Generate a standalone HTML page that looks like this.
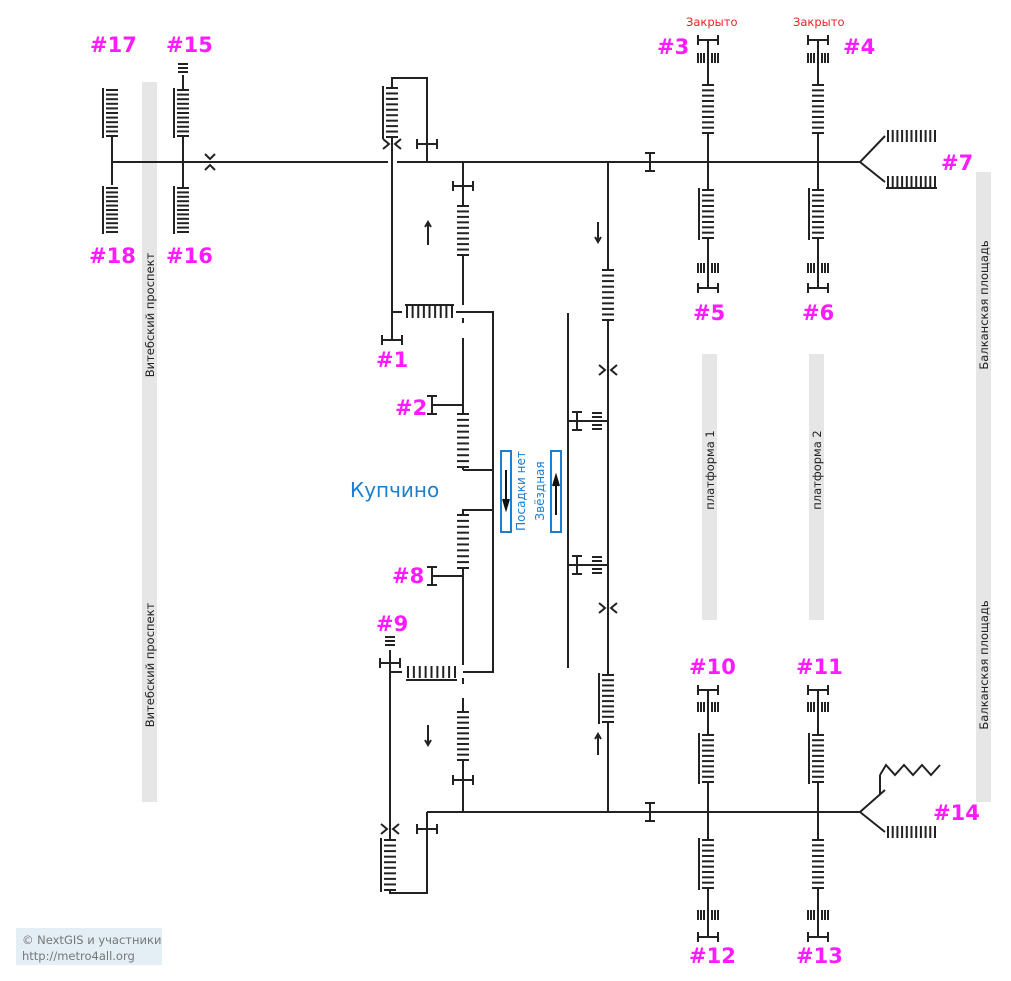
<!DOCTYPE html>
<html><head><meta charset="utf-8"><style>
html,body{margin:0;padding:0;background:#fff;}
svg{display:block;}
.l{font-family:"DejaVu Sans","Liberation Sans",sans-serif;font-weight:bold;font-size:21px;fill:#ff1aff;}
.g{font-family:"DejaVu Sans","Liberation Sans",sans-serif;font-size:11.5px;fill:#222;}
.r{font-family:"DejaVu Sans","Liberation Sans",sans-serif;font-size:11.5px;fill:#ee2222;}
.b{font-family:"DejaVu Sans","Liberation Sans",sans-serif;font-size:12px;fill:#1a7fd0;}
</style></head><body>
<svg id="s" width="1011" height="981" viewBox="0 0 1011 981" xmlns="http://www.w3.org/2000/svg">
<rect x="142" y="82" width="15" height="720" fill="#e6e6e6"/>
<rect x="976" y="172" width="15" height="630" fill="#e6e6e6"/>
<rect x="702" y="354" width="15" height="266" fill="#e6e6e6"/>
<rect x="809" y="354" width="15" height="266" fill="#e6e6e6"/>
<g id="d" stroke="#222" stroke-width="2" fill="none"></g>
<rect x="501" y="451" width="10" height="81" fill="none" stroke="#1a7fd0" stroke-width="2"/>
<rect x="551" y="451" width="10" height="81" fill="none" stroke="#1a7fd0" stroke-width="2"/>
<text class="l" x="90" y="52">#17</text><text class="l" x="166" y="52">#15</text>
<text class="l" x="89" y="263">#18</text><text class="l" x="166" y="263">#16</text>
<text class="l" x="657" y="54">#3</text><text class="l" x="843" y="54">#4</text>
<text class="l" x="693" y="320">#5</text><text class="l" x="802" y="320">#6</text>
<text class="l" x="941" y="170">#7</text>
<text class="l" x="376" y="367">#1</text><text class="l" x="395" y="415">#2</text>
<text class="l" x="392" y="583">#8</text><text class="l" x="376" y="631">#9</text>
<text class="l" x="689" y="674">#10</text><text class="l" x="796" y="674">#11</text>
<text class="l" x="689" y="963">#12</text><text class="l" x="796" y="963">#13</text>
<text class="l" x="933" y="820">#14</text>
<text class="r" x="686" y="26">Закрыто</text><text class="r" x="793" y="26">Закрыто</text>
<text x="350" y="497" style="font-family:'DejaVu Sans','Liberation Sans',sans-serif;font-size:20px;fill:#1a7fd0">Купчино</text>
<text class="g" transform="translate(154,315) rotate(-90)" text-anchor="middle">Витебский проспект</text>
<text class="g" transform="translate(154,665) rotate(-90)" text-anchor="middle">Витебский проспект</text>
<text class="g" transform="translate(988,305) rotate(-90)" text-anchor="middle">Балканская площадь</text>
<text class="g" transform="translate(988,665) rotate(-90)" text-anchor="middle">Балканская площадь</text>
<text class="g" transform="translate(714,470) rotate(-90)" text-anchor="middle">платформа 1</text>
<text class="g" transform="translate(821,470) rotate(-90)" text-anchor="middle">платформа 2</text>
<text class="b" transform="translate(525,491) rotate(-90)" text-anchor="middle">Посадки нет</text>
<text class="b" transform="translate(544,491) rotate(-90)" text-anchor="middle">Звёздная</text>
<rect x="16" y="928" width="146" height="37" fill="#e3eef5"/>
<text x="22" y="944" style="font-family:'DejaVu Sans',sans-serif;font-size:11.5px;fill:#777">© NextGIS и участники</text>
<text x="22" y="960" style="font-family:'DejaVu Sans',sans-serif;font-size:11.5px;fill:#777">http://metro4all.org</text>
</svg>
<script>
var g=document.getElementById('d'),o='';
function L(a){o+='<polyline points="'+a.join(' ')+'"/>';}
function ln(x1,y1,x2,y2){L([x1+','+y1,x2+','+y2]);}
function vs(x,y1,y2,n,rail){for(var i=0;i<n;i++){var y=y1+(y2-y1)*i/(n-1);ln(x-6,y,x+6,y);}if(rail)ln(x-9,y1-2,x-9,y2+2);}
function hs(y,x1,x2,n,rail){for(var i=0;i<n;i++){var x=x1+(x2-x1)*i/(n-1);ln(x,y-6,x,y+6);}if(rail)ln(x1-2,y+rail,x2+2,y+rail);}
function th(x,y){ln(x-10,y,x+10,y);ln(x-10,y-5,x-10,y+5);ln(x+10,y-5,x+10,y+5);}
function tv(x,y){ln(x,y-9,x,y+9);ln(x-5,y-9,x+5,y-9);ln(x-5,y+9,x+5,y+9);}
function sm(x,y){[-10,-7,-4,4,7,10].forEach(function(d){ln(x+d,y-5,x+d,y+5);});}
function tk(x,y1,n){for(var i=0;i<n;i++)ln(x-5,y1+i*4,x+5,y1+i*4);}
function chv(x,y){L([(x-9)+','+(y-5),(x-3)+','+y,(x-9)+','+(y+5)]);L([(x+9)+','+(y-5),(x+3)+','+y,(x+9)+','+(y+5)]);}
function chh(x,y){L([(x-5)+','+(y-8),x+','+(y-3),(x+5)+','+(y-8)]);L([(x-5)+','+(y+8),x+','+(y+3),(x+5)+','+(y+8)]);}
function arr(x,y1,y2){ln(x,y1,x,y2);var d=y2>y1?-5:5;L([(x-3)+','+(y2+d),x+','+y2,(x+3)+','+(y2+d)]);}
ln(112,162,388,162);ln(397,162,860,162);
ln(427,812,860,812);
L(['885,136','860,162','885,182']);hs(136,888,935,11,0);hs(182,888,935,11,6);
L(['885,790','860,812','885,832']);hs(832,888,935,11,0);
L(['880,795','880,775']);L(['880,775','886,765','895,775','904,765','913,775','922,765','931,775','940,765']);
ln(112,137,112,185);vs(112,90,136,11,1);vs(112,188,232,11,1);
ln(183,75,183,90);ln(183,136,183,188);tk(183,64,3);vs(183,90,136,11,1);vs(183,188,232,11,1);
chh(210,162);
[708,818].forEach(function(x){th(x,40);sm(x,58);ln(x,40,x,85);vs(x,85,133,10,0);ln(x,133,x,190);vs(x,190,238,10,1);ln(x,238,x,288);sm(x,268);th(x,288);
 th(x,690);sm(x,707);ln(x,690,x,735);vs(x,735,782,10,1);ln(x,782,x,840);vs(x,840,888,10,x==708);ln(x,888,x,937);sm(x,915);th(x,937);});
tv(650,162);tv(650,812);
vs(392,88,137,10,1);L(['392,88','392,78','427,78','427,162']);th(427,144);chv(392,144);
ln(392,137,392,340);th(392,340);
ln(392,312,402,312);hs(312,407,452,9,-7);L(['456,312','493,312','493,672','463,672']);
ln(463,162,463,206);ln(463,255,463,305);th(463,186);vs(463,206,255,10,0);ln(463,318,463,323);
ln(463,338,463,414);ln(432,405,463,405);tv(432,405);vs(463,414,467,10,0);ln(463,467,463,470);ln(463,470,493,470);
L(['493,510','463,510','463,515']);vs(463,515,568,10,0);ln(463,568,463,665);ln(432,576,463,576);tv(432,576);ln(463,678,463,684);
ln(463,698,463,712);vs(463,712,760,10,0);ln(463,760,463,812);th(463,780);
arr(428,245,222);arr(428,725,745);arr(598,222,242);arr(598,755,734);
ln(390,650,390,840);th(390,663);tk(390,637,3);ln(390,672,402,672);hs(672,408,455,9,8);
vs(390,840,890,10,1);L(['390,890','390,893','427,893','427,812']);th(427,829);chv(390,829);
ln(608,162,608,270);ln(608,320,608,675);ln(608,722,608,812);vs(608,270,320,10,0);chv(608,370);chv(608,608);
ln(568,421,608,421);tv(577,421);tk(597,413,5);
ln(568,565,608,565);tv(577,565);tk(597,557,5);
vs(608,675,722,10,1);
ln(568,313,568,668);
o+='<polyline points="506,470 506,508" stroke="#111"/><polyline points="503,499 506,509 509,499" fill="#111" stroke="#111"/>';
o+='<polyline points="556,515 556,477" stroke="#111"/><polyline points="553,486 556,476 559,486" fill="#111" stroke="#111"/>';
g.innerHTML=o;
</script>
</body></html>
